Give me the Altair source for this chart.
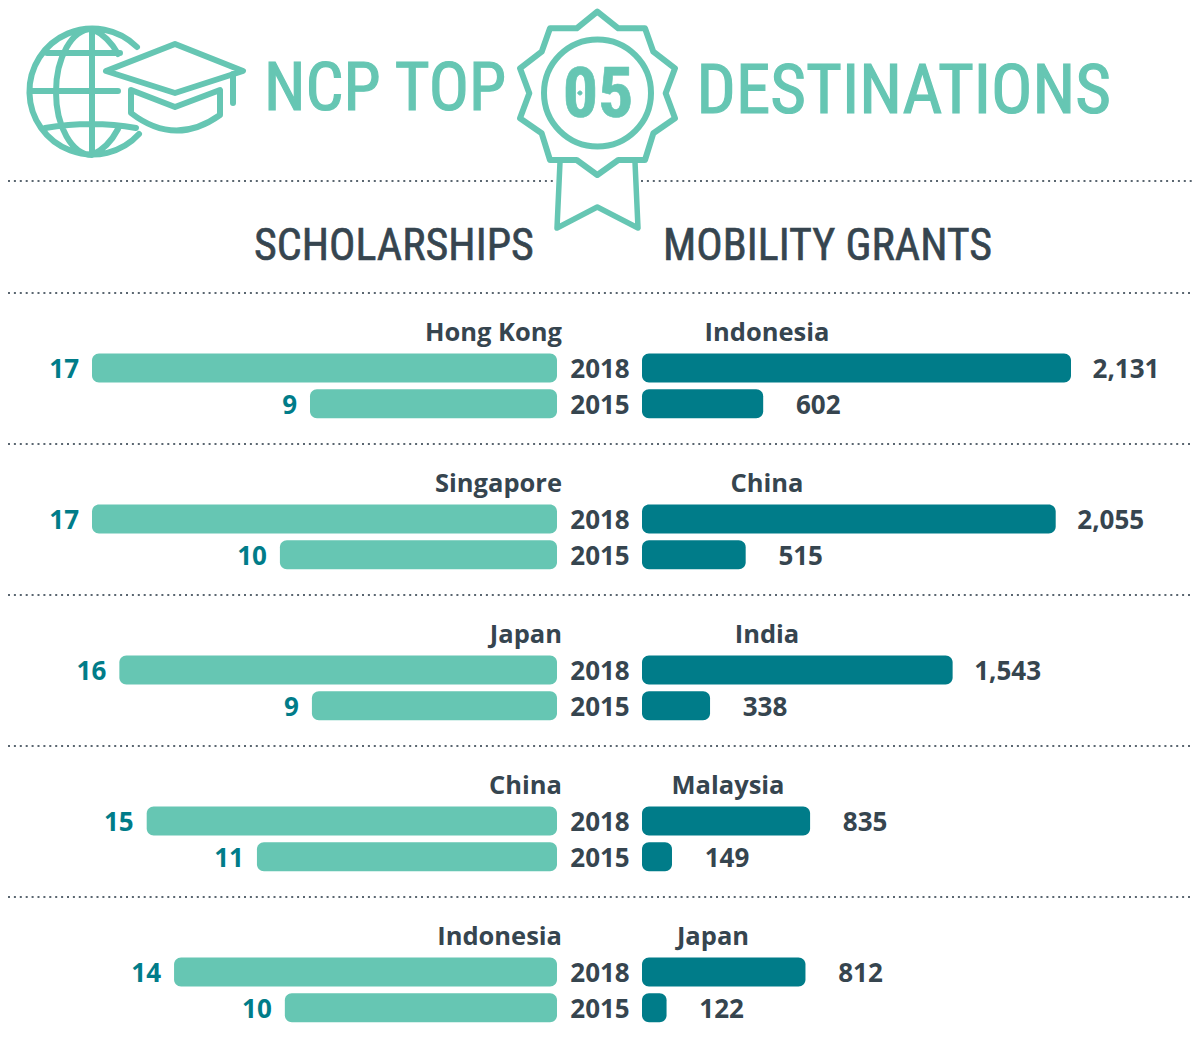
import altair as alt
import pandas as pd

# ---------- data ----------
YEARS = ["2018", "2015"]
SCH_COUNTRIES = ["Hong Kong", "Singapore", "Japan", "China", "Indonesia"]
SCH_2018 = [17, 17, 16, 15, 14]
SCH_2015 = [9.03, 10.13, 8.96, 10.97, 9.95]
MOB_COUNTRIES = ["Indonesia", "China", "India", "Malaysia", "Japan"]
MOB_2018 = [2131, 2055, 1543, 835, 812]
MOB_2015 = [602, 515, 338, 149, 122]

# ---------- style / layout ----------
W, H = 1184, 1024
LIGHT = "#66C6B3"
TEAL = "#007C89"
DARK = "#36454F"
DOTS = "#5A6670"
LABEL_FONT = "Open Sans"
HEAD_FONT = "Roboto Condensed"
LABEL_SIZE = 26
NAME_SIZE = 25.5
OFF = 8
SLOT_PX = 35.6
TOP_PX = 324.5
STEP = 151 / SLOT_PX
MOB_LABEL_X = [759, 759, 759, 720, 705]

def px(v):
    return v - OFF

rows, names = [], []
for g in range(5):
    base = g * STEP
    names.append({"slot": base, "left": SCH_COUNTRIES[g], "right": MOB_COUNTRIES[g], "rx": MOB_LABEL_X[g]})
    for k, (yr, a, b) in enumerate(zip(YEARS, (SCH_2018[g], SCH_2015[g]), (MOB_2018[g], MOB_2015[g]))):
        rows.append({"slot": base + k + 1, "year": yr, "sch": a, "mob": b})
rows = pd.DataFrame(rows)
names = pd.DataFrame(names)

y_scale = alt.Scale(domain=[-TOP_PX / SLOT_PX, (H - TOP_PX) / SLOT_PX], range=[0, H], nice=False, zero=False, padding=0)
y_enc = alt.Y("slot:Q", scale=y_scale, axis=None)
x_left = alt.Scale(domain=[0, 17], range=[549, 84], nice=False)
x_right = alt.Scale(domain=[0, 2131], range=[634, 1063], nice=False)

base = alt.Chart(rows)
lbars = base.mark_bar(color=LIGHT, height=29, cornerRadius=7, orient="horizontal").encode(
    x=alt.X("sch:Q", scale=x_left, axis=None, stack=None), y=y_enc)
rbars = base.mark_bar(color=TEAL, height=29, cornerRadius=7, orient="horizontal").encode(
    x=alt.X("mob:Q", scale=x_right, axis=None, stack=None), y=y_enc)
ltext = base.mark_text(align="right", dx=-13, dy=2, font=LABEL_FONT, fontWeight="bold", fontSize=LABEL_SIZE, color=TEAL).encode(
    x=alt.X("sch:Q", scale=x_left, axis=None), y=y_enc, text=alt.Text("sch:Q", format=".0f"))
rtext = base.mark_text(align="center", dx=55, dy=2, font=LABEL_FONT, fontWeight="bold", fontSize=LABEL_SIZE, color=DARK).encode(
    x=alt.X("mob:Q", scale=x_right, axis=None), y=y_enc, text=alt.Text("mob:Q", format=","))
ytext = base.mark_text(align="center", dy=2, font=LABEL_FONT, fontWeight="bold", fontSize=LABEL_SIZE, color=DARK).encode(
    x=alt.value(592), y=y_enc, text="year:N")
lname = alt.Chart(names).mark_text(align="right", font=LABEL_FONT, fontWeight="bold", fontSize=NAME_SIZE, color=DARK).encode(
    x=alt.value(554), y=y_enc, text="left:N")
rname = alt.Chart(names).mark_text(align="center", font=LABEL_FONT, fontWeight="bold", fontSize=NAME_SIZE, color=DARK).encode(
    x=alt.X("rx:Q", scale=None), y=y_enc, text="right:N")

# dotted separators
seps = pd.DataFrame({"x": [0, 633, 0, 0, 0, 0, 0], "x2": [546, W, W, W, W, W, W],
                     "y": [px(v) for v in (181, 181, 293, 444, 595, 746, 897)]})
sep = alt.Chart(seps).mark_rule(color=DOTS, strokeWidth=2, strokeDash=[2, 3.9]).encode(
    x=alt.X("x:Q", scale=None), x2="x2:Q", y=alt.Y("y:Q", scale=None))

# headings
def head(txt, x, y, size, color, align="left", weight="normal", sw=1.0):
    return alt.Chart(pd.DataFrame({"t": [txt]})).mark_text(
        align=align, baseline="alphabetic", font=HEAD_FONT, fontSize=size, fontWeight=weight,
        color=color, stroke=color, strokeWidth=sw).encode(
        x=alt.value(px(x)), y=alt.value(px(y)), text="t:N")

heads = [
    head("NCP TOP", 264, 110, 67, LIGHT, sw=1.2),
    head("DESTINATIONS", 696.5, 113, 69, LIGHT, sw=1.2),
    head("SCHOLARSHIPS", 254, 260, 44, DARK, sw=0.6),
    head("MOBILITY GRANTS", 663, 260, 44, DARK, sw=0.6),
    head("05", 598, 117, 70, LIGHT, align="center", weight="bold", sw=0.6),
]

# icons: SVG outlines positioned at the chart origin, in chart pixels
def P(*pts):
    return " ".join(("M" if i == 0 else "L") + f"{x - OFF:.1f},{y - OFF:.1f}" for i, (x, y) in enumerate(pts))

def icon(path, sw=6, fill=None):
    kw = dict(shape=path, size=4, opacity=1, stroke=LIGHT, strokeWidth=sw, strokeJoin="round", strokeCap="round")
    if fill:
        kw.update(filled=True, fill=fill)
    else:
        kw.update(filled=False)
    return alt.Chart(pd.DataFrame({"a": [0]})).mark_point(**kw).encode(x=alt.value(0), y=alt.value(0))

c = lambda x, y: f"{x - OFF:.1f},{y - OFF:.1f}"
globe = (
    f"M{c(137,47)} A63,63 0 1 0 {c(139,134)} "
    f"M{c(92,29)} L{c(92,155)} "
    f"M{c(92,29)} A36,63 0 0 0 {c(92,155)} "
    f"M{c(92,29)} Q{c(108,36)} {c(118,54)} "
    f"M{c(92,155)} Q{c(108,148)} {c(118,129)} "
    f"M{c(47,53)} L{c(120,53)} "
    f"M{c(32,91)} L{c(118,91)} "
    f"M{c(45,128)} Q{c(92,120)} {c(136,128)}"
)
cap_top = P((175, 44), (243, 71), (175, 93), (106, 71)) + " Z"
tassel = P((233, 74), (233, 103))
cap_bot = f"M{c(131,90)} L{c(175,107)} L{c(220,90)} L{c(220,115)} Q{c(175,147)} {c(131,113)} Z"
star_pts = [(597.3, 11.7), (618.3, 28.3), (645, 28.3), (653.3, 51.7), (675, 68.3), (665.7, 93.3), (675, 118.3),
            (653.3, 133.3), (645, 160), (618.3, 160), (597.3, 175), (576.7, 160), (550, 160), (541.7, 133.3),
            (520, 118.3), (529.3, 93.3), (520, 68.3), (541.7, 51.7), (550, 28.3), (576.7, 28.3)]
star = P(*star_pts) + " Z"
ring = f"M{c(544,93)} A53.5,53.5 0 1 1 {c(651,93)} A53.5,53.5 0 1 1 {c(544,93)} Z"
ribbon = P((560, 162), (557, 228), (597.3, 207), (638, 228), (635, 162))
dot = f"M{c(578,93)} A2,2 0 1 1 {c(582,93)} A2,2 0 1 1 {c(578,93)} Z"

icons = [icon(globe), icon(cap_top), icon(tassel), icon(cap_bot), icon(star), icon(ring), icon(ribbon, sw=5.5)]
zero_dot = icon(dot, sw=1, fill=LIGHT)

chart = alt.layer(
    sep, *icons, *heads, zero_dot,
    lbars, rbars, ltext, rtext, ytext, lname, rname,
).resolve_scale(x="independent", y="independent").properties(
    width=W, height=H, padding=0, autosize=alt.AutoSizeParams(type="none"),
    background="white",
).configure_view(stroke=None)

chart.save("out.html", embed_options={"renderer": "svg", "actions": False})
